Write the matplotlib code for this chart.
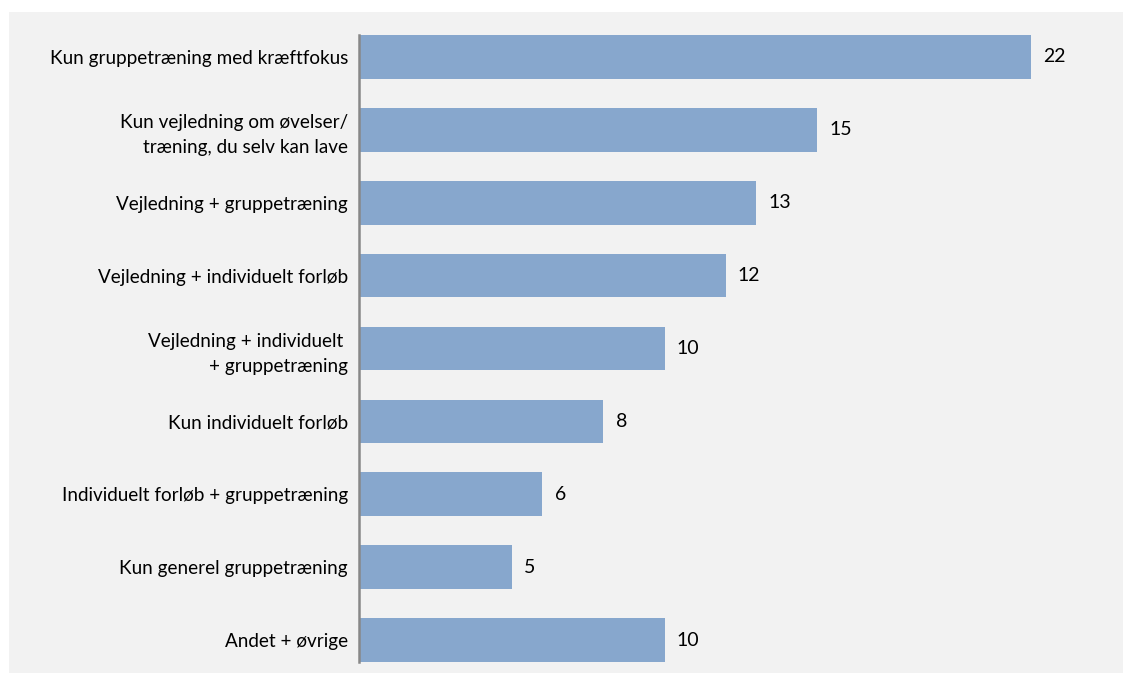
import matplotlib
matplotlib.use("Agg")
import matplotlib.pyplot as plt
from matplotlib.patches import Rectangle

# data
categories = [
    "Kun gruppetræning med kræftfokus",
    "Kun vejledning om øvelser/\ntræning, du selv kan lave",
    "Vejledning + gruppetræning",
    "Vejledning + individuelt forløb",
    "Vejledning + individuelt \n+ gruppetræning",
    "Kun individuelt forløb",
    "Individuelt forløb + gruppetræning",
    "Kun generel gruppetræning",
    "Andet + øvrige",
]
values = [22, 15, 13, 12, 10, 8, 6, 5, 10]

plt.rcParams['font.family'] = ['Lato', 'DejaVu Sans']

fig = plt.figure(figsize=(11.23, 6.73), dpi=100)
fig.patch.set_facecolor("white")
# grey chart area
fig.patches.append(Rectangle((9 / 1123, 0), 1, 1 - 12 / 673, transform=fig.transFigure,
                             facecolor="#f2f2f2", edgecolor="none", zorder=-10))

ax = fig.add_axes([359 / 1123, 11 / 673, 1 - 359 / 1123, (662 - 35) / 673])
ax.set_facecolor("none")

pos = list(range(len(categories)))
bars = ax.barh(pos, values, height=0.6, color="#87a7cd")
ax.set_ylim(len(categories) - 0.7, -0.3)
ax.set_xlim(0, 25)

for p, v in zip(pos, values):
    ax.text(v + 0.4, p, str(v), va="center", ha="left", fontsize=14, color="black")

ax.set_yticks(pos)
ax.set_yticklabels(categories, fontsize=13.6, linespacing=1.55)
ax.tick_params(axis="y", length=0, pad=8)
ax.set_xticks([])
for s in ["top", "right", "bottom"]:
    ax.spines[s].set_visible(False)
ax.spines["left"].set_color("#888888")
ax.spines["left"].set_linewidth(1.8)

fig.savefig("out.png", dpi=100)
